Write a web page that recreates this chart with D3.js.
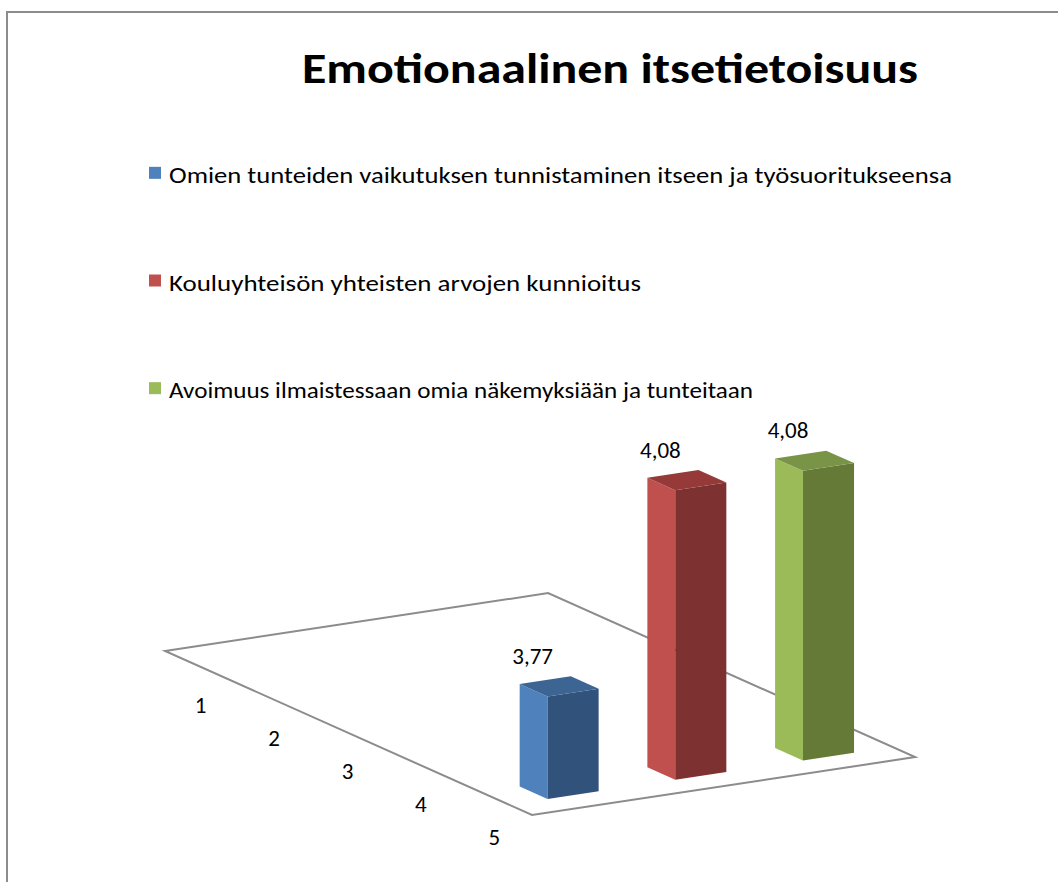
<!DOCTYPE html>
<html>
<head>
<meta charset="utf-8">
<script src="https://cdn.jsdelivr.net/npm/d3@7"></script>
<style>
  html, body { margin: 0; padding: 0; background: #fff; }
  svg { display: block; font-family: Carlito, Lato, "Open Sans", "Liberation Sans", sans-serif; }
</style>
</head>
<body>
<svg id="chart" width="1058" height="882"></svg>
<script>
// ---- data ----
const title = "Emotionaalinen itsetietoisuus";
const categories = ["1", "2", "3", "4", "5"];
const seriesNames = [
  "Omien tunteiden vaikutuksen tunnistaminen itseen ja työsuoritukseensa",
  "Kouluyhteisön yhteisten arvojen kunnioitus",
  "Avoimuus ilmaistessaan omia näkemyksiään ja tunteitaan"
];
const series1 = [null, null, null, null, 3.77];
const series2 = [null, null, null, null, 4.08];
const series3 = [null, null, null, null, 4.08];
const seriesValues = [series1, series2, series3];
const valueDomain = [3.6, 4.2];

// ---- styles ----
const colorsLight = ["#4F81BD", "#C0504D", "#9BBB59"];
const colorsDark  = ["#31527B", "#7D3131", "#657A37"];
const colorsTop   = ["#3C6594", "#953A38", "#7A9447"];

const svg = d3.select("#chart");

// outer frame
svg.append("rect")
  .attr("x", 7).attr("y", 12).attr("width", 1100).attr("height", 900)
  .attr("fill", "none").attr("stroke", "#8c8c8c").attr("stroke-width", 2);

// title
svg.append("text")
  .attr("x", 610).attr("y", 83)
  .attr("text-anchor", "middle")
  .attr("font-size", 43).attr("font-weight", "bold")
  .attr("fill", "#000")
  .attr("textLength", 616).attr("lengthAdjust", "spacingAndGlyphs")
  .text(title);

// legend
const legendY = d3.scaleBand().domain(seriesNames).range([121, 444]);
const legendWidths = [783, 472, 584];
const lg = svg.append("g").selectAll("g").data(seriesNames).join("g")
  .attr("transform", d => `translate(149, ${legendY(d) + legendY.bandwidth() / 2})`);
lg.append("rect").attr("x", 0).attr("y", -8).attr("width", 12).attr("height", 12)
  .attr("fill", (d, i) => colorsLight[i]);
lg.append("text").attr("x", 20).attr("y", 8)
  .attr("font-size", 23).attr("fill", "#000")
  .attr("textLength", (d, i) => legendWidths[i]).attr("lengthAdjust", "spacingAndGlyphs")
  .text(d => d);

// ---- 3D projection ----
const origin = [165, 651];
const uVec = [127.7, -19.3];   // per series slot
const wVec = [73.4, 32.8];     // per category slot
const uScale = d3.scaleBand().domain(d3.range(seriesNames.length)).range([0, seriesNames.length])
  .paddingInner(0.6).paddingOuter(0.3);
const wScale = d3.scaleBand().domain(categories).range([0, categories.length])
  .paddingInner(0.62).paddingOuter(0.31);
const yScale = d3.scaleLinear().domain(valueDomain).range([0, 362]);

function proj(u, w, h) {
  return [origin[0] + u * uVec[0] + w * wVec[0], origin[1] + u * uVec[1] + w * wVec[1] - h];
}
const line = d3.line();
function poly(pts) { return line(pts) + "Z"; }

// floor
const U = seriesNames.length, W = categories.length;
svg.append("path")
  .attr("d", poly([proj(0, 0, 0), proj(U, 0, 0), proj(U, W, 0), proj(0, W, 0)]))
  .attr("fill", "none").attr("stroke", "#8c8c8c").attr("stroke-width", 2);

// depth axis labels
svg.append("g").selectAll("text").data(categories).join("text")
  .attr("x", d => proj(0, wScale(d) + wScale.bandwidth() / 2, 0)[0] - 1)
  .attr("y", d => proj(0, wScale(d) + wScale.bandwidth() / 2, 0)[1] + 46)
  .attr("text-anchor", "middle").attr("font-size", 23).attr("fill", "#000")
  .text(d => d);

// bars
const bars = [];
seriesValues.forEach((vals, si) => {
  vals.forEach((v, ci) => {
    if (v == null) return;
    bars.push({ si, cat: categories[ci], v });
  });
});
// draw from back (small w, large u) to front
bars.sort((a, b) => d3.ascending(wScale(a.cat), wScale(b.cat)) || d3.descending(a.si, b.si));

const barG = svg.append("g");
bars.forEach(b => {
  const u0 = uScale(b.si), u1 = u0 + uScale.bandwidth();
  const w0 = wScale(b.cat), w1 = w0 + wScale.bandwidth();
  const h = yScale(b.v);
  const g = barG.append("g");
  // left face (u = u0)
  g.append("path")
    .attr("d", poly([proj(u0, w0, 0), proj(u0, w1, 0), proj(u0, w1, h), proj(u0, w0, h)]))
    .attr("fill", colorsLight[b.si]);
  // front face (w = w1)
  g.append("path")
    .attr("d", poly([proj(u0, w1, 0), proj(u1, w1, 0), proj(u1, w1, h), proj(u0, w1, h)]))
    .attr("fill", colorsDark[b.si]);
  // top face
  g.append("path")
    .attr("d", poly([proj(u0, w0, h), proj(u1, w0, h), proj(u1, w1, h), proj(u0, w1, h)]))
    .attr("fill", colorsTop[b.si]);
  // data label
  const p = proj(u0, w0, h);
  g.append("text")
    .attr("x", p[0] + 13).attr("y", p[1] - 20)
    .attr("text-anchor", "middle").attr("font-size", 23).attr("fill", "#000")
    .text(d3.format(".2f")(b.v).replace(".", ","));
});
</script>
</body>
</html>
